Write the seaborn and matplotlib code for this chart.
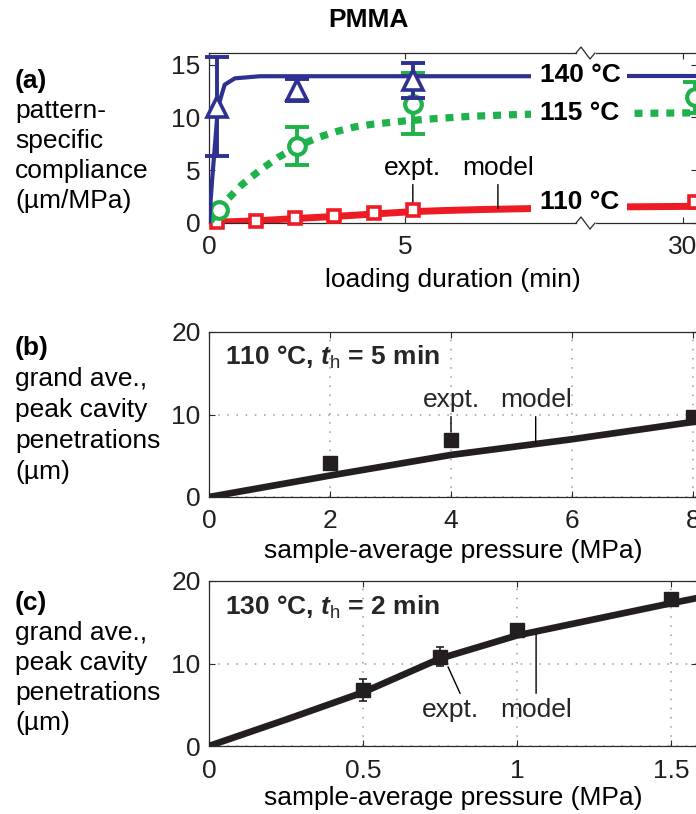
import numpy as np
import matplotlib
matplotlib.use("Agg")
import matplotlib.pyplot as plt
from matplotlib.lines import Line2D
from matplotlib.patches import Rectangle
import seaborn as sns

# ---------------- data ----------------
# (a) pattern-specific compliance (um/MPa) vs loading duration (min)
t_140 = [0.2, 2.25, 5.2]
c_140 = [11.0, 12.6, 13.5]
e_140 = [4.7, 1.0, 1.7]

t_115 = [0.25, 2.25, 5.2, 30.3]
c_115 = [1.2, 7.3, 11.3, 11.9]
e_115 = [0.0, 1.8, 2.9, 1.5]

t_110 = [0.2, 1.2, 2.2, 3.2, 4.2, 5.2, 30.3]
c_110 = [0.1, 0.15, 0.45, 0.65, 0.9, 1.2, 2.0]

model_t_140 = [0, 0.08, 0.23, 0.4, 0.66, 1.3, 9.4, 27.5, 31.0]
model_c_140 = [0, 4.1, 11.0, 13.1, 13.7, 13.9, 13.9, 13.9, 13.9]

model_t_115 = [0, 0.25, 0.41, 0.83, 1.3, 1.76, 2.25, 2.78, 3.29, 3.72, 4.16,
               4.95, 5.82, 6.66, 7.68, 8.19, 9.4, 27.5, 31.0]
model_c_115 = [0, 1.2, 2.0, 3.6, 5.0, 6.2, 7.25, 8.1, 8.7, 9.1, 9.35,
               9.65, 9.9, 10.1, 10.25, 10.3, 10.35, 10.35, 10.45]

model_t_110 = [0, 0.2, 1.2, 2.2, 3.2, 4.2, 5.2, 6.0, 7.0, 8.0, 9.4, 27.5, 31.0]
model_c_110 = [0, 0.08, 0.2, 0.42, 0.62, 0.85, 1.08, 1.18, 1.28, 1.35, 1.45, 1.5, 1.6]

# (b) 110 degC, t_h = 5 min
p_b = [2, 4, 8]
d_b = [4.1, 6.9, 9.7]
model_p_b = [0, 2, 4, 6, 8, 10]
model_d_b = [0, 2.6, 5.1, 7.0, 9.1, 11.1]

# (c) 130 degC, t_h = 2 min
p_c = [0.5, 0.75, 1.0, 1.5]
d_c = [6.8, 10.8, 14.1, 17.8]
e_c = [1.3, 1.15, 0.0, 0.0]
model_p_c = [0, 0.25, 0.5, 0.75, 1.0, 1.5, 1.7]
model_d_c = [0, 3.2, 6.5, 10.6, 13.4, 17.3, 18.8]

# ---------------- style ----------------
sns.set_theme(style="white")
plt.rcParams["font.family"] = ["Liberation Sans", "DejaVu Sans"]
plt.rcParams["mathtext.fontset"] = "custom"
plt.rcParams["mathtext.rm"] = "Liberation Sans"
plt.rcParams["mathtext.it"] = "Liberation Sans:italic"
plt.rcParams["mathtext.bf"] = "Liberation Sans:bold"
plt.rcParams["mathtext.bfit"] = "Liberation Sans:bold:italic"

FS = 19
INK = "#231f20"
SPINE = "#2a2a2a"
BLUE = "#2e3192"
GREEN = "#1fb24a"
RED = "#ed1c24"
GRID = "#9a9a9a"

W, H = 696, 814
fig = plt.figure(figsize=(W / 100, H / 100), dpi=100)


def rect(l, t, r, b):
    return [l / W, 1 - b / H, (r - l) / W, (b - t) / H]


def fx(px):
    return px / W


def fy(py):
    return 1 - py / H


def style_axes(ax, left=True, right=True):
    for side, sp in ax.spines.items():
        sp.set_color(SPINE)
        sp.set_linewidth(0.9)
    ax.spines["left"].set_visible(left)
    ax.spines["right"].set_visible(right)
    ax.tick_params(direction="in", length=4.5, width=0.8, color=SPINE,
                   labelsize=FS, labelcolor=INK, top=True, bottom=True,
                   left=left, right=right, labelleft=left, labelright=False)
    ax.tick_params(axis="x", pad=9)
    ax.tick_params(axis="y", pad=6)
    ax.set_facecolor("white")


# ---------------- panel (a): broken time axis ----------------
PX_PER_MIN = 39.2
axL = fig.add_axes(rect(209, 53, 576, 223))
axR = fig.add_axes(rect(596, 53, 697, 223))
axL.set_xlim(0, (576 - 209) / PX_PER_MIN)
axR.set_xlim(30 - (683 - 596) / PX_PER_MIN, 30 + (697 - 683) / PX_PER_MIN)
for ax in (axL, axR):
    ax.set_ylim(0, 16.1)
    ax.set_yticks([0, 5, 10, 15])
style_axes(axL, left=True, right=False)
style_axes(axR, left=False, right=True)
axL.set_xticks([0, 5])
axR.set_xticks([30])
axR.set_yticklabels([])

# model x, model y, expt x, expt y, expt err, colour, marker, size, edge, line style, line width
series_a = [
    (model_t_110, model_c_110, t_110, c_110, None, RED, "s", 8.0, 2.6, "-", 5.0),
    (model_t_115, model_c_115, t_115, c_115, e_115, GREEN, "o", 12.0, 3.0, (0, (1.1, 1.1)), 5.2),
    (model_t_140, model_c_140, t_140, c_140, e_140, BLUE, "^", 14.0, 2.6, "-", 3.0),
]

for ax, lo, hi in ((axL, 0, 20), (axR, 20, 40)):
    for k, (mt, mc, tt, cc, ee, col, mk, ms, mew, ls, lw) in enumerate(series_a):
        z = 2 + 2 * k
        sns.lineplot(x=mt, y=mc, ax=ax, color=col, lw=lw, linestyle=ls,
                     estimator=None, sort=False, zorder=z)
        ax.lines[-1].set_dash_capstyle("butt")
        tt_a = np.asarray(tt)
        cc_a = np.asarray(cc)
        sel = (tt_a >= lo) & (tt_a < hi)
        if ee is not None:
            ee_a = np.asarray(ee)
            s2 = sel & (ee_a > 0)
            ax.errorbar(tt_a[s2], cc_a[s2], yerr=ee_a[s2], fmt="none",
                        ecolor=col, elinewidth=2.8, capsize=8.5, capthick=2.8,
                        zorder=z + 1, clip_on=False)
        ax.plot(tt_a[sel], cc_a[sel], linestyle="none", marker=mk, ms=ms,
                mfc="white", mec=col, mew=mew, zorder=z + 1.5, clip_on=False)

axL.annotate("expt.", xy=(5.2, 1.6), xytext=(5.2, (223 - 175) / 10.53),
             ha="center", va="baseline", fontsize=FS, color="black",
             arrowprops=dict(arrowstyle="-", lw=1.0, color="black",
                             shrinkA=1, shrinkB=0, relpos=(0.5, 0.0)))
axL.annotate("model", xy=(7.37, 1.4), xytext=(7.37, (223 - 175) / 10.53),
             ha="center", va="baseline", fontsize=FS, color="black",
             arrowprops=dict(arrowstyle="-", lw=1.0, color="black",
                             shrinkA=1, shrinkB=0, relpos=(0.5, 0.0)))

# white gap behind the temperature labels, then the labels themselves
for yc, label in ((75, "140 °C"), (113, "115 °C"), (202, "110 °C")):
    fig.patches.append(Rectangle((fx(531), fy(yc + 11)), (627 - 531) / W, 22 / H,
                                 transform=fig.transFigure, facecolor="white",
                                 edgecolor="none", zorder=1))
    fig.text(fx(580), fy(yc), label, ha="center", va="center", fontsize=FS,
             fontweight="bold", color="black", zorder=3)

# zig-zag break marks on the top and bottom edges
for yb in (53, 223):
    xs = [576, 581, 590, 595]
    ys = [yb, yb - 6, yb + 6, yb]
    fig.lines.append(Line2D([fx(v) for v in xs], [fy(v) for v in ys],
                            transform=fig.transFigure, color=SPINE, lw=0.9,
                            zorder=4))

fig.text(fx(453), fy(287), "loading duration (min)", ha="center",
         va="baseline", fontsize=FS, color="black")
fig.text(fx(368), fy(20), "PMMA", ha="center", va="center", fontsize=FS,
         fontweight="bold", color="black")

# ---------------- panels (b) and (c) ----------------
axb = fig.add_axes(rect(209, 332, 697, 497))
axc = fig.add_axes(rect(209, 581, 697, 746))

axb.set_xlim(0, (697 - 209) / 60.5)
axb.set_xticks([0, 2, 4, 6, 8])
axc.set_xlim(0, (697 - 209) / 308.0)
axc.set_xticks([0, 0.5, 1.0, 1.5])
axc.set_xticklabels(["0", "0.5", "1", "1.5"])
for ax in (axb, axc):
    ax.set_ylim(0, 20)
    ax.set_yticks([0, 10, 20])
    style_axes(ax)
    ax.grid(True, color=GRID, linestyle=(0, (1, 5)), linewidth=1.1)
    ax.set_axisbelow(True)

sns.lineplot(x=model_p_b, y=model_d_b, ax=axb, color=INK, lw=4.8,
             estimator=None, sort=False, zorder=3)
axb.plot(p_b, d_b, linestyle="none", marker="s", ms=10, mfc=INK, mec=INK,
         mew=1, zorder=4, clip_on=False)

sns.lineplot(x=model_p_c, y=model_d_c, ax=axc, color=INK, lw=4.8,
             estimator=None, sort=False, zorder=3)
pc = np.asarray(p_c)
dc = np.asarray(d_c)
ec = np.asarray(e_c)
has_err = ec > 0
axc.errorbar(pc[has_err], dc[has_err], yerr=ec[has_err], fmt="none",
             ecolor=INK, elinewidth=1.2, capsize=3, capthick=1.2, zorder=4)
axc.plot(pc, dc, linestyle="none", marker="s", ms=10, mfc=INK, mec=INK,
         mew=1, zorder=5, clip_on=False)

axb.text(0.27, (497 - 365) / 8.25, r"110 °C, $\mathbfit{t}_{\mathrm{h}}$ = 5 min",
         fontsize=FS, fontweight="bold", ha="left", va="baseline")
axc.text(0.052, (746 - 615) / 8.25, r"130 °C, $\mathbfit{t}_{\mathrm{h}}$ = 2 min",
         fontsize=FS, fontweight="bold", ha="left", va="baseline")

arrow = dict(arrowstyle="-", lw=1.0, color="black", shrinkA=1, shrinkB=0)
axb.annotate("expt.", xy=(4.0, 7.9), xytext=(4.0, (497 - 407) / 8.25),
             ha="center", va="baseline", fontsize=FS,
             arrowprops=dict(arrow, relpos=(0.5, 0.0)))
axb.annotate("model", xy=(5.4, 6.6), xytext=(5.4, (497 - 407) / 8.25),
             ha="center", va="baseline", fontsize=FS,
             arrowprops=dict(arrow, relpos=(0.5, 0.0)))
axc.annotate("expt.", xy=(0.776, 9.6), xytext=(0.785, (746 - 717) / 8.25),
             ha="center", va="baseline", fontsize=FS,
             arrowprops=dict(arrow, relpos=(0.7, 1.0)))
axc.annotate("model", xy=(1.062, 13.5), xytext=(1.062, (746 - 717) / 8.25),
             ha="center", va="baseline", fontsize=FS,
             arrowprops=dict(arrow, relpos=(0.5, 1.0)))

fig.text(fx(453), fy(558), "sample-average pressure (MPa)", ha="center",
         va="baseline", fontsize=FS, color="black")
fig.text(fx(453), fy(805), "sample-average pressure (MPa)", ha="center",
         va="baseline", fontsize=FS, color="black")

# ---------------- left-hand panel captions ----------------
captions = [
    ("(a)", ["pattern-", "specific", "compliance", "(µm/MPa)"], 88, 30),
    ("(b)", ["grand ave.,", "peak cavity", "penetrations", "(µm)"], 355, 31),
    ("(c)", ["grand ave.,", "peak cavity", "penetrations", "(µm)"], 610, 30),
]
for tag, lines, y0, dy in captions:
    fig.text(fx(15), fy(y0), tag, ha="left", va="baseline", fontsize=FS,
             fontweight="bold", color="black")
    for i, line in enumerate(lines):
        fig.text(fx(15), fy(y0 + dy * (i + 1)), line, ha="left",
                 va="baseline", fontsize=FS, color="black")

fig.savefig("out.png", dpi=100, facecolor="white")
